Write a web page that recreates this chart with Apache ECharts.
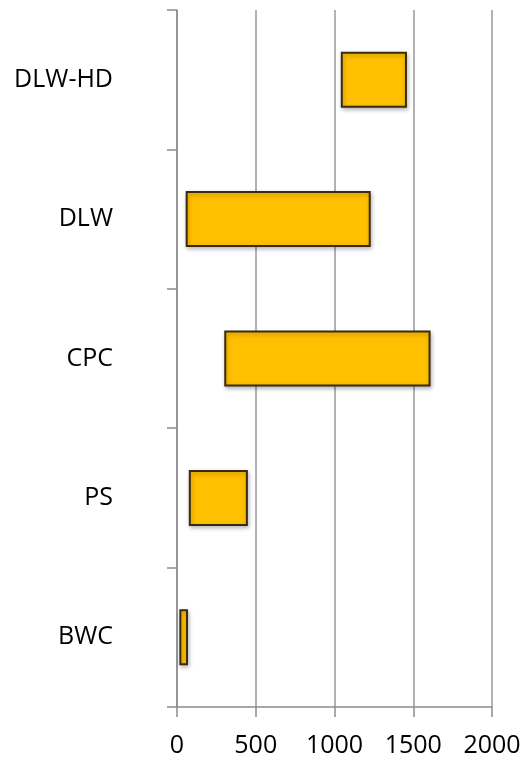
<!DOCTYPE html>
<html>
<head>
<meta charset="utf-8">
<script src="https://cdn.jsdelivr.net/npm/echarts@6/dist/echarts.min.js"></script>
<style>html,body{margin:0;padding:0;background:#fff;}#c{width:524px;height:760px;}</style>
</head>
<body>
<div id="c"></div>
<script>
var categories = ['BWC', 'PS', 'CPC', 'DLW', 'DLW-HD'];
var rangeStart = [15, 75, 300, 55, 1040];
var rangeEnd = [70, 450, 1610, 1230, 1460];
var xTicks = [0, 500, 1000, 1500, 2000];

var spans = rangeEnd.map(function (v, i) { return v - rangeStart[i]; });

var chart = echarts.init(document.getElementById('c'), null, {renderer: 'canvas'});
var font = '"Open Sans", "DejaVu Sans", sans-serif';
chart.setOption({
  animation: false,
  backgroundColor: '#ffffff',
  grid: {left: 177, right: 32, top: 10, bottom: 53, containLabel: false},
  xAxis: {
    type: 'value',
    min: xTicks[0],
    max: xTicks[xTicks.length - 1],
    interval: 500,
    axisLine: {show: true, lineStyle: {color: '#8c8c8c', width: 1.5}},
    axisTick: {show: true, length: 10, lineStyle: {color: '#8c8c8c', width: 1.5}},
    splitLine: {show: true, lineStyle: {color: '#999999', width: 1.5}},
    axisLabel: {color: '#000', fontFamily: font, fontSize: 25, margin: 26,
      formatter: function (v) { return String(v); }}
  },
  yAxis: {
    type: 'category',
    data: categories,
    axisLine: {show: true, lineStyle: {color: '#8c8c8c', width: 1.5}},
    axisTick: {show: true, length: 10, lineStyle: {color: '#8c8c8c', width: 1.5}},
    axisLabel: {color: '#000', fontFamily: font, fontSize: 25, margin: 64, align: 'right'},
    splitLine: {show: false}
  },
  series: [
    {
      type: 'bar',
      stack: 'r',
      data: rangeStart,
      barWidth: 56,
      itemStyle: {color: 'rgba(0,0,0,0)'},
      silent: true
    },
    {
      type: 'bar',
      stack: 'r',
      data: spans,
      barWidth: 56,
      itemStyle: {
        color: '#FFC000',
        borderColor: '#3b2a12',
        borderWidth: 2,
        shadowColor: 'rgba(0,0,0,0.25)',
        shadowBlur: 4,
        shadowOffsetX: 1,
        shadowOffsetY: 2
      }
    }
  ]
});
</script>
</body>
</html>
